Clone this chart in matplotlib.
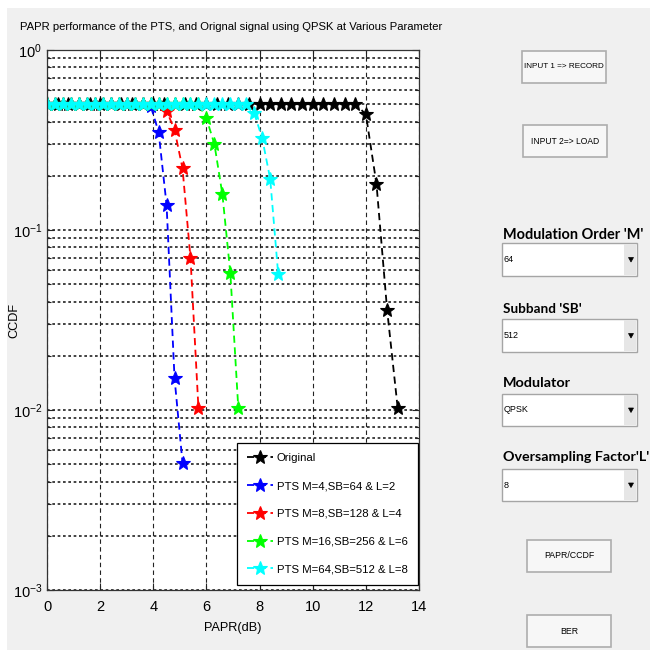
import matplotlib
matplotlib.use("Agg")
import matplotlib.pyplot as plt
from matplotlib.patches import Rectangle, Polygon
from matplotlib.ticker import LogLocator, NullFormatter, FixedLocator

plt.rcParams['font.family'] = ['Liberation Sans', 'DejaVu Sans']

# ---------------- data ----------------
papr_orig = [0.0, 0.4, 0.8, 1.2, 1.6, 2.0, 2.4, 2.8, 3.2, 3.6, 4.0, 4.4, 4.8, 5.2, 5.6,
             6.0, 6.4, 6.8, 7.2, 7.6, 8.0, 8.4, 8.8, 9.2, 9.6, 10.0, 10.4, 10.8, 11.2, 11.6,
             12.0, 12.4, 12.8, 13.2]
ccdf_orig = [0.5] * 30 + [0.44, 0.18, 0.036, 0.0102]

papr_m4 = [0.0, 0.3, 0.6, 0.9, 1.2, 1.5, 1.8, 2.1, 2.4, 2.7, 3.0, 3.3, 3.6, 3.9,
           4.2, 4.5, 4.8, 5.1]
ccdf_m4 = [0.5] * 13 + [0.49, 0.35, 0.138, 0.015, 0.0051]

papr_m8 = [0.0, 0.3, 0.6, 0.9, 1.2, 1.5, 1.8, 2.1, 2.4, 2.7, 3.0, 3.3, 3.6, 3.9, 4.2,
           4.5, 4.8, 5.1, 5.4, 5.7]
ccdf_m8 = [0.5] * 15 + [0.46, 0.36, 0.22, 0.07, 0.0102]

papr_m16 = [0.0, 0.3, 0.6, 0.9, 1.2, 1.5, 1.8, 2.1, 2.4, 2.7, 3.0, 3.3, 3.6, 3.9, 4.2,
            4.5, 4.8, 5.1, 5.4, 5.7, 6.0, 6.3, 6.6, 6.9, 7.2]
ccdf_m16 = [0.5] * 20 + [0.417, 0.30, 0.158, 0.0575, 0.0102]

papr_m64 = [0.0, 0.3, 0.6, 0.9, 1.2, 1.5, 1.8, 2.1, 2.4, 2.7, 3.0, 3.3, 3.6, 3.9, 4.2,
            4.5, 4.8, 5.1, 5.4, 5.7, 6.0, 6.3, 6.6, 6.9, 7.2, 7.5, 7.8, 8.1, 8.4, 8.7]
ccdf_m64 = [0.5] * 26 + [0.445, 0.323, 0.192, 0.057]

series_labels = ['Original', 'PTS M=4,SB=64 & L=2', 'PTS M=8,SB=128 & L=4',
                 'PTS M=16,SB=256 & L=6', 'PTS M=64,SB=512 & L=8']
series_colors = ['#000000', '#0000ff', '#ff0000', '#00ff00', '#00ffff']

x_ticks = [0, 2, 4, 6, 8, 10, 12, 14]

title_text = 'PAPR performance of the PTS, and Orignal signal using QPSK at Various Parameter'

gui_buttons = ['INPUT 1 => RECORD', 'INPUT 2=> LOAD', 'PAPR/CCDF', 'BER']
gui_labels = ["Modulation Order 'M'", "Subband 'SB'", 'Modulator', "Oversampling Factor'L'"]
gui_values = ['64', '512', 'QPSK', '8']

# ---------------- figure ----------------
W, H = 650, 653
fig = plt.figure(figsize=(W / 100, H / 100), dpi=100, facecolor='white')
renderer = fig.canvas.get_renderer()


def fx(x):
    return x / W


def fy(y):
    return 1 - y / H


def fit_size(text, width_px, **kw):
    t = fig.text(0, 0, text, fontsize=10, **kw)
    w = t.get_window_extent(renderer=renderer).width
    t.remove()
    return 10 * width_px / w


# GUI background
fig.patches.append(Rectangle((fx(7), fy(650)), fx(650) - fx(7), fy(8) - fy(650),
                             transform=fig.transFigure, facecolor='#f0f0f0',
                             edgecolor='none', zorder=-10))

ax_l, ax_r, ax_t, ax_b = 47, 419, 50, 590
ax = fig.add_axes([fx(ax_l), fy(ax_b), fx(ax_r) - fx(ax_l), fy(ax_t) - fy(ax_b)])
ax.set_facecolor('white')

all_x = [papr_orig, papr_m4, papr_m8, papr_m16, papr_m64]
all_y = [ccdf_orig, ccdf_m4, ccdf_m8, ccdf_m16, ccdf_m64]
for xs, ys, c, lab in zip(all_x, all_y, series_colors, series_labels):
    ax.semilogy(xs, ys, linestyle=(0, (4, 2.5)), color=c, linewidth=1.3,
                marker='*', markersize=10, markeredgewidth=0.8,
                markerfacecolor=c, markeredgecolor=c, label=lab)

ax.set_xlim(0, 14)
ax.set_ylim(1e-3, 1)
ax.xaxis.set_major_locator(FixedLocator(x_ticks))
ax.yaxis.set_major_locator(LogLocator(base=10, numticks=10))
ax.yaxis.set_minor_locator(LogLocator(base=10, subs=[2, 3, 4, 5, 6, 7, 8, 9], numticks=10))
ax.yaxis.set_minor_formatter(NullFormatter())

ax.grid(True, which='major', axis='x', color='#222222', linestyle=(0, (4, 3)), linewidth=0.8)
ax.grid(True, which='both', axis='y', color='#222222', linestyle=(0, (1.6, 1.6)), linewidth=1.2)
ax.set_axisbelow(True)

ax.tick_params(which='both', direction='in', top=True, right=True, colors='#222222',
               labelcolor='black', labelsize=10.5, width=0.8)
ax.tick_params(which='major', length=5)
ax.tick_params(which='minor', length=3)
ax.tick_params(axis='x', pad=7)
for s in ax.spines.values():
    s.set_color('#333333')
    s.set_linewidth(0.9)

lab_fs = fit_size('PAPR(dB)', 58)
ax.set_xlabel('PAPR(dB)', fontsize=lab_fs, labelpad=6)
ax.set_ylabel('CCDF', fontsize=lab_fs)
ax.yaxis.set_label_coords((20 - ax_l) / (ax_r - ax_l), 0.5)
fig.text(fx(231), fy(27), title_text, ha='center', va='center',
         fontsize=fit_size(title_text, 422))

leg_fs = fit_size('PTS M=16,SB=256 & L=6', 131)
leg = ax.legend(loc='lower right', bbox_to_anchor=(0.997, 0.01), fontsize=leg_fs,
                fancybox=False, framealpha=1, edgecolor='black', handlelength=2.3,
                labelspacing=1.56, borderpad=0.9, handletextpad=0.3, borderaxespad=0,
                numpoints=1)
leg.get_frame().set_linewidth(0.9)

# ---------------- GUI widgets ----------------
def button(x0, y0, x1, y1, text, text_w):
    fig.patches.append(Rectangle((fx(x0), fy(y1)), fx(x1) - fx(x0), fy(y0) - fy(y1),
                                 transform=fig.transFigure, facecolor='#f7f7f7',
                                 edgecolor='#adadad', linewidth=1.2))
    fig.text(fx((x0 + x1) / 2), fy((y0 + y1) / 2), text, ha='center', va='center',
             fontsize=fit_size(text, text_w), color='black')

button(522, 51, 606, 83, gui_buttons[0], 80)
button(523, 125, 607, 157, gui_buttons[1], 68)
button(527, 540, 611, 572, gui_buttons[2], 50)
button(527, 615, 611, 647, gui_buttons[3], 18)

label_y = [235, 309, 383, 457]
label_w = [141, 78, 68, 147]
popup_y = [(243, 276), (319, 352), (394, 426), (469, 501)]
val_fs = fit_size('QPSK', 25)
for lab, lw, val, ly, (py0, py1) in zip(gui_labels, label_w, gui_values, label_y, popup_y):
    fig.text(fx(503), fy(ly), lab, ha='left', va='center',
             fontsize=fit_size(lab, lw, family=['Lato', 'DejaVu Sans'], fontweight='bold'),
             family=['Lato', 'DejaVu Sans'], fontweight='bold', color='black')
    x0, x1 = 502, 637
    fig.patches.append(Rectangle((fx(x0), fy(py1)), fx(x1) - fx(x0), fy(py0) - fy(py1),
                                 transform=fig.transFigure, facecolor='white',
                                 edgecolor='#a5a5a5', linewidth=1.0))
    fig.patches.append(Rectangle((fx(624), fy(py1 - 1)), fx(636) - fx(624), fy(py0 + 1) - fy(py1 - 1),
                                 transform=fig.transFigure, facecolor='#e6e6e6',
                                 edgecolor='none'))
    cy = (py0 + py1) / 2
    fig.patches.append(Polygon([(fx(628.5), fy(cy - 2)), (fx(633.5), fy(cy - 2)),
                                (fx(631), fy(cy + 2.5))], closed=True,
                               transform=fig.transFigure, facecolor='black', edgecolor='black',
                               linewidth=0.5))
    fig.text(fx(504), fy(cy), val, ha='left', va='center', fontsize=val_fs, color='black')

fig.savefig('out.png', dpi=100, facecolor=fig.get_facecolor())
